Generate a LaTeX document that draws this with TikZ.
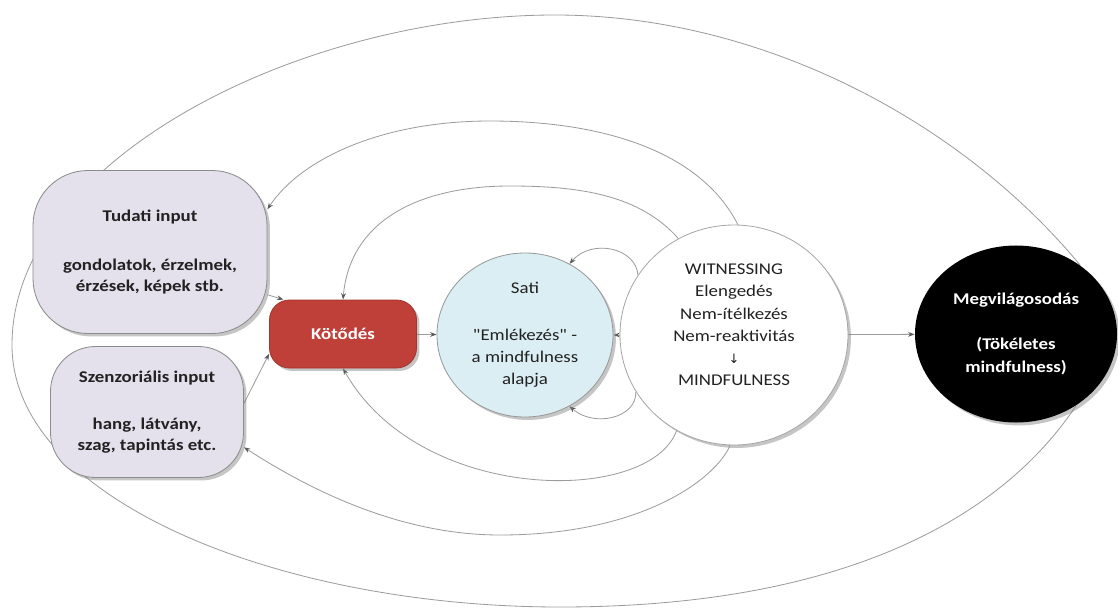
\documentclass[tikz,border=0pt]{standalone}
\usepackage{fontspec}
\setmainfont{Carlito}[FakeStretch=1.15, Ligatures=TeXOff]
\newfontfamily\arrowfont{DejaVu Sans}
\usetikzlibrary{shadows,arrows.meta,shapes.geometric}
\pgfdeclarelayer{background}
\pgfsetlayers{background,main}
\definecolor{lav}{HTML}{E4E0EC}
\definecolor{kred}{HTML}{BF3F39}
\definecolor{satib}{HTML}{DBEEF4}
\definecolor{lgrey}{HTML}{9C9C9C}
\definecolor{tipgrey}{HTML}{5A5A5A}
\definecolor{txt}{HTML}{222222}
\tikzset{
  conn/.style={draw=lgrey, line width=0.7pt, -{Stealth[length=5.5pt,width=4pt,color=tipgrey]}},
  plainline/.style={draw=lgrey, line width=0.7pt},
  shade/.style={drop shadow={shadow xshift=2.5pt,shadow yshift=-2.5pt,opacity=0.45}},
  inbox/.style={draw=black!45, line width=0.7pt, fill=lav, text=txt, align=center,
    inner sep=0pt, font=\fontsize{14}{18}\selectfont\bfseries, shade},
  ellbox/.style={ellipse, inner sep=0pt, align=center, line width=0.7pt, shade},
}
\begin{document}
\begin{tikzpicture}[x=0.03cm, y=-0.03cm]
\useasboundingbox (0,0) rectangle (1118,615);

\node[inbox, minimum width=7.02cm, minimum height=4.89cm, rounded corners=1.65cm] (T) at (150,252)
  {Tudati input\\[23.7pt]gondolatok, érzelmek,\\érzések, képek stb.};
\node[inbox, minimum width=5.79cm, minimum height=3.93cm, rounded corners=1.35cm] (S) at (147,412)
  {Szenzoriális input\\[22pt]hang, látvány,\\szag, tapintás etc.};
\node[draw=kred!85!black, line width=0.7pt, fill=kred, text=white, inner sep=0pt,
  font=\fontsize{14}{18}\selectfont\bfseries, minimum width=4.41cm, minimum height=2.04cm,
  rounded corners=0.6cm, shade] (K) at (343,334) {Kötődés};
\node[ellbox, draw=black!40, fill=satib, text=txt, minimum width=5.28cm, minimum height=4.92cm,
  font=\fontsize{14}{19}\selectfont] (Sa) at (525,335)
  {Sati\\[21pt]"Emlékezés" -\\a mindfulness\\alapja};
\node[ellbox, draw=black!35, fill=white, minimum width=6.84cm, minimum height=6.6cm,
  label={[name=Wt, align=center, yshift=8.5pt, text=txt, font=\fontsize{14}{19}\selectfont]center:{WITNESSING\\Elengedés\\Nem-ítélkezés\\Nem-reaktivitás\\{\arrowfont\fontsize{11}{11}\selectfont ↓}\\MINDFULNESS}}]
  (W) at (734,335) {};
\node[ellbox, fill=black, text=white, minimum width=6.06cm, minimum height=5.31cm,
  font=\fontsize{14}{19}\selectfont\bfseries] (M) at (1016,334)
  {Megvilágosodás\\[19.3pt](Tökéletes\\mindfulness)};

\begin{pgfonlayer}{background}
\fill[white] (0,0) rectangle (1118,615);
% outer loop
\draw[plainline] (M.47) .. controls (960,120) and (760,15) .. (555,15)
  .. controls (300,15) and (12,160) .. (12,345)
  .. controls (12,500) and (280,607) .. (560,607)
  .. controls (840,607) and (1000,520) .. (M.-50);
% second arcs
\draw[conn] (W.88) .. controls (700,150) and (600,121) .. (490,121)
  .. controls (380,121) and (300,160) .. (T.20);
\draw[conn] (W.268) .. controls (715,480) and (640,535) .. (500,535)
  .. controls (400,535) and (310,490) .. (S.-20);
% third arcs
\draw[conn] (W.120) .. controls (640,195) and (580,186) .. (510,186)
  .. controls (420,186) and (350,220) .. (K.north);
\draw[conn] (W.239) .. controls (650,505) and (420,505) .. (K.south);
% self loops
\draw[conn] (W.148) .. controls (636,248) and (592,238) .. (Sa.58);
\draw[conn] (W.210) .. controls (637,418) and (594,428) .. (Sa.-58);
% straight links
\draw[conn] (T.-20) -- (K.150);
\draw[conn] (S.5) -- (K.-165);
\draw[conn] (K) -- (Sa);
\draw[conn] (W) -- (Sa);
\draw[conn] (W) -- (M);
\end{pgfonlayer}
\end{tikzpicture}
\end{document}
